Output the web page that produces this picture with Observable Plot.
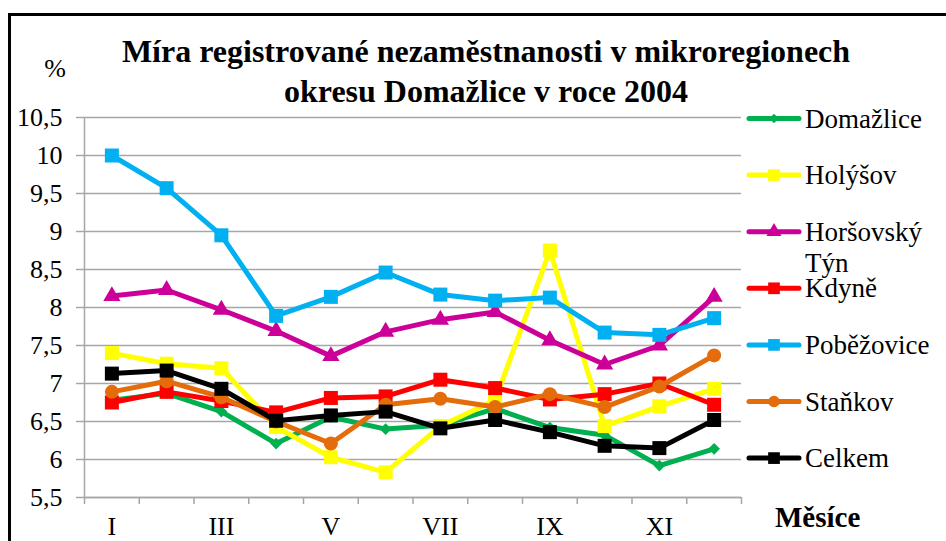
<!DOCTYPE html>
<html><head><meta charset="utf-8">
<script src="https://cdn.jsdelivr.net/npm/d3@7"></script>
<script src="https://cdn.jsdelivr.net/npm/@observablehq/plot@0.6"></script>
<style>
body{margin:0;background:#fff;}
#wrap{position:relative;width:946px;height:541px;overflow:hidden;background:#fff;font-family:"Liberation Serif","Times New Roman",serif;color:#000;}
#wrap > svg, #wrap > .ov{position:absolute;left:0;top:0;}
#wrap svg text{font-family:"Liberation Serif","Times New Roman",serif;}
.title{position:absolute;left:0;width:972px;text-align:center;font-weight:bold;font-size:32px;line-height:32px;white-space:nowrap;}
</style></head><body><div id="wrap"></div>
<script>
const months = ["I","II","III","IV","V","VI","VII","VIII","IX","X","XI","XII"];
const regions = ["Domažlice","Holýšov","Horšovský Týn","Kdyně","Poběžovice","Staňkov","Celkem"];
const colors = ["#00b050","#ffff00","#cc0099","#ff0000","#00b0f0","#e46c0a","#000000"];
const symbols = ["diamond2","square","triangle","square","square","circle","square"];
const domazlice   = [6.78,6.87,6.63,6.21,6.56,6.40,6.45,6.67,6.42,6.32,5.92,6.14];
const holysov     = [7.40,7.26,7.20,6.43,6.03,5.83,6.44,6.78,8.75,6.44,6.70,6.93];
const horsovsky   = [8.15,8.23,7.97,7.69,7.36,7.68,7.84,7.94,7.57,7.25,7.50,8.14];
const kdyne       = [6.75,6.89,6.77,6.62,6.81,6.83,7.05,6.94,6.79,6.86,7.00,6.72];
const pobezovice  = [10.00,9.57,8.95,7.89,8.14,8.46,8.17,8.09,8.13,7.67,7.64,7.86];
const stankov     = [6.89,7.03,6.82,6.50,6.21,6.72,6.80,6.69,6.86,6.69,6.96,7.37];
const celkem      = [7.13,7.17,6.93,6.51,6.58,6.63,6.41,6.52,6.36,6.18,6.15,6.52];
const series = [domazlice,holysov,horsovsky,kdyne,pobezovice,stankov,celkem];
const yTicks = [5.5,6,6.5,7,7.5,8,8.5,9,9.5,10,10.5];
const xLabelTicks = [1,3,5,7,9,11];
const title1 = "Míra registrované nezaměstnanosti v mikroregionech";
const title2 = "okresu Domažlice v roce 2004";
const yUnit = "%";
const xTitle = "Měsíce";

const FONT = '"Liberation Serif","Times New Roman",serif';
const boundaries = d3.range(0, months.length + 1).map(i => i + 0.5);
const radii = {diamond2: 5.3, square: 7.9, triangle: 6.4, circle: 7};

const seriesMarks = series.flatMap((vals, k) => {
  const rows = vals.map((v, i) => ({m: i + 1, v}));
  return [
    Plot.line(rows, {x: "m", y: "v", stroke: colors[k], strokeWidth: 5, strokeLinejoin: "miter"}),
    Plot.dot(rows, {x: "m", y: "v", symbol: () => symbols[k], fill: colors[k], stroke: "none", r: radii[symbols[k]]})
  ];
});

const chart = Plot.plot({
  width: 946, height: 541,
  marginLeft: 84, marginRight: 205, marginTop: 117, marginBottom: 44,
  style: {fontFamily: FONT, fontSize: "26px", color: "#000", background: "transparent", overflow: "visible"},
  x: {domain: [0.5, 12.5], axis: null},
  y: {domain: [5.5, 10.5], axis: null},
  symbol: {type: "identity"},
  marks: [
    Plot.gridY(yTicks, {stroke: "#a6a6a6", strokeOpacity: 1, strokeWidth: 1.5}),
    Plot.axisY(yTicks, {tickSize: 8, tickPadding: 14, stroke: "#a6a6a6", strokeOpacity: 1, strokeWidth: 1.5, label: null, fontSize: 26, tickFormat: d => String(d).replace(".", ",")}),
    Plot.ruleX([0.5], {stroke: "#a6a6a6", strokeWidth: 1.5}),
    Plot.ruleY([5.5], {stroke: "#a6a6a6", strokeWidth: 1.5}),
    Plot.axisX(boundaries, {tickSize: 7, stroke: "#a6a6a6", strokeOpacity: 1, strokeWidth: 1.5, label: null, tickFormat: () => ""}),
    Plot.axisX(xLabelTicks, {tickSize: 0, tickPadding: 19, label: null, fontSize: 26, tickFormat: i => months[i - 1]}),
    ...seriesMarks
  ]
});

const wrap = document.getElementById("wrap");
wrap.appendChild(chart);

const t1 = document.createElement("div"); t1.className = "title"; t1.style.top = "35px"; t1.textContent = title1; wrap.appendChild(t1);
const t2 = document.createElement("div"); t2.className = "title"; t2.style.top = "75px"; t2.textContent = title2; wrap.appendChild(t2);

const ov = d3.select(wrap).append("svg").attr("class", "ov").attr("width", 946).attr("height", 541)
  .attr("font-family", FONT);
ov.append("path").attr("d", "M9.5,541V14.5H946").attr("fill", "none").attr("stroke", "#000").attr("stroke-width", 3);
ov.append("text").attr("x", 55).attr("y", 77).attr("text-anchor", "middle").attr("font-size", 26).text(yUnit);
ov.append("text").attr("x", 775).attr("y", 527).attr("font-size", 29).attr("font-weight", "bold").text(xTitle);

const legY0 = 118.5, legStep = 56.6;
const legendSizes = {diamond2: 4.3, square: 6.6, triangle: 5.6, circle: 5.8};
const symMap = {diamond2: d3.symbolDiamond2, square: d3.symbolSquare, triangle: d3.symbolTriangle, circle: d3.symbolCircle};
regions.forEach((name, k) => {
  const y = legY0 + k * legStep;
  const g = ov.append("g");
  g.append("line").attr("x1", 749).attr("x2", 799).attr("y1", y).attr("y2", y)
    .attr("stroke", colors[k]).attr("stroke-width", 5).attr("stroke-linecap", "round");
  const r = legendSizes[symbols[k]];
  g.append("path").attr("transform", `translate(774,${y})`).attr("fill", colors[k])
    .attr("d", d3.symbol(symMap[symbols[k]], Math.PI * r * r)());
  const words = name === "Horšovský Týn" ? ["Horšovský", "Týn"] : [name];
  const tx = g.append("text").attr("x", 805).attr("y", y).attr("font-size", 27);
  words.forEach((w, j) => tx.append("tspan").attr("x", 805).attr("dy", j === 0 ? "0.34em" : "31px").text(w));
});
</script>
</body></html>
